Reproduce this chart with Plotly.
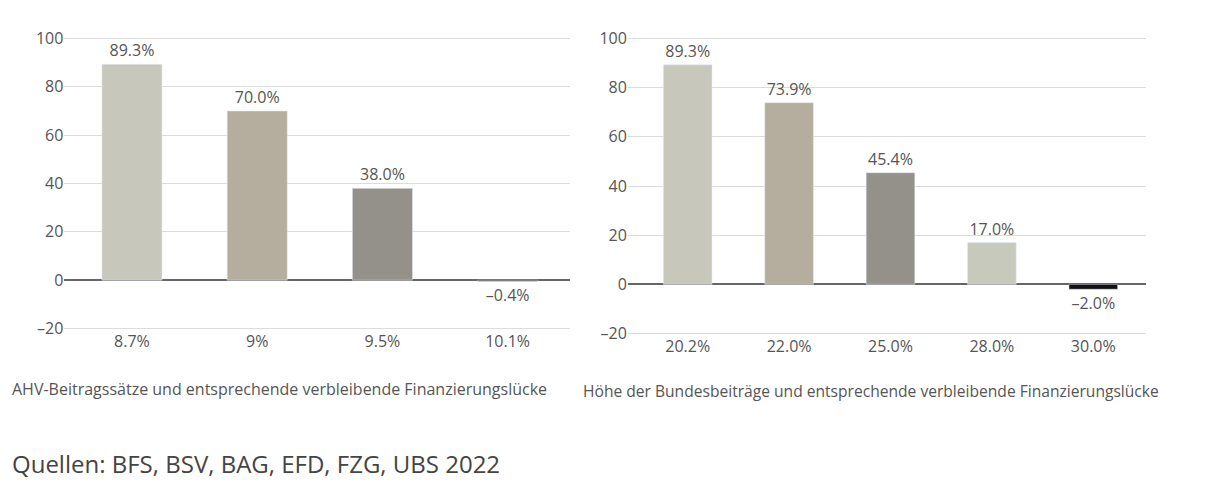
import plotly.graph_objects as go

# left panel: AHV contribution rates
ahv_rates = ["8.7%", "9%", "9.5%", "10.1%"]
ahv_gap = [89.3, 70.0, 38.0, -0.4]
ahv_colors = ["#c8c7bb", "#b5ae9e", "#94918a", "#111111"]

# right panel: federal contributions
bund_rates = ["20.2%", "22.0%", "25.0%", "28.0%", "30.0%"]
bund_gap = [89.3, 73.9, 45.4, 17.0, -2.0]
bund_colors = ["#c8c7bb", "#b5ae9e", "#94918a", "#c8c9bd", "#111111"]

y_ticks = [-20, 0, 20, 40, 60, 80, 100]
y_ticktext = ["–20", "0", "20", "40", "60", "80", "100"]

font_family = "Open Sans"
text_color = "#555555"


def fmt(v):
    return f"{v:.1f}%".replace("-", "–")


fig = go.Figure()
fig.add_trace(go.Bar(x=ahv_rates, y=ahv_gap, marker_color=ahv_colors,
                     text=[fmt(v) for v in ahv_gap], textposition="outside",
                     cliponaxis=False, xaxis="x", yaxis="y",
                     textfont=dict(size=16, color=text_color)))
fig.add_trace(go.Bar(x=bund_rates, y=bund_gap, marker_color=bund_colors,
                     text=[fmt(v) for v in bund_gap], textposition="outside",
                     cliponaxis=False, xaxis="x2", yaxis="y2",
                     textfont=dict(size=16, color=text_color)))

axis_y = dict(range=[-20.6, 100.6], tickvals=y_ticks, ticktext=y_ticktext,
              showgrid=True, gridcolor="#dcdcdc", gridwidth=1,
              zeroline=True, zerolinecolor="#666666", zerolinewidth=1.5,
              tickfont=dict(size=16, color=text_color), ticks="", showline=False,
              automargin=False)
axis_x = dict(showgrid=False, showline=False, ticks="", automargin=False,
              tickfont=dict(size=16, color=text_color))

# body margin of the page shifts the figure a few px, so positions are set a bit left/up
fig.update_layout(
    width=1225, height=500,
    margin=dict(l=0, r=0, t=0, b=0, autoexpand=False),
    paper_bgcolor="white", plot_bgcolor="white",
    showlegend=False,
    bargap=0.52,
    font=dict(family=font_family, color=text_color),
    xaxis=dict(domain=[0.046, 0.459], anchor="y", range=[-0.54, 3.5], **axis_x),
    yaxis=dict(domain=[0.356, 0.942], anchor="x", **axis_y),
    xaxis2=dict(domain=[0.506, 0.929], anchor="y2", range=[-0.59, 4.52], **axis_x),
    yaxis2=dict(domain=[0.346, 0.942], anchor="x2", **axis_y),
)

fig.add_annotation(text="AHV-Beitragssätze und entsprechende verbleibende Finanzierungslücke",
                   xref="paper", yref="paper", x=2 / 1225, y=0.238,
                   xanchor="left", yanchor="middle", showarrow=False,
                   font=dict(size=16, color=text_color))
fig.add_annotation(text="Höhe der Bundesbeiträge und entsprechende verbleibende Finanzierungslücke",
                   xref="paper", yref="paper", x=573 / 1225, y=0.234,
                   xanchor="left", yanchor="middle", showarrow=False,
                   font=dict(size=15.6, color=text_color))
fig.add_annotation(text="Quellen: BFS, BSV, BAG, EFD, FZG, UBS 2022",
                   xref="paper", yref="paper", x=2 / 1225, y=0.09,
                   xanchor="left", yanchor="middle", showarrow=False,
                   font=dict(size=24, color="#444444"))

fig.write_html("out.html")
